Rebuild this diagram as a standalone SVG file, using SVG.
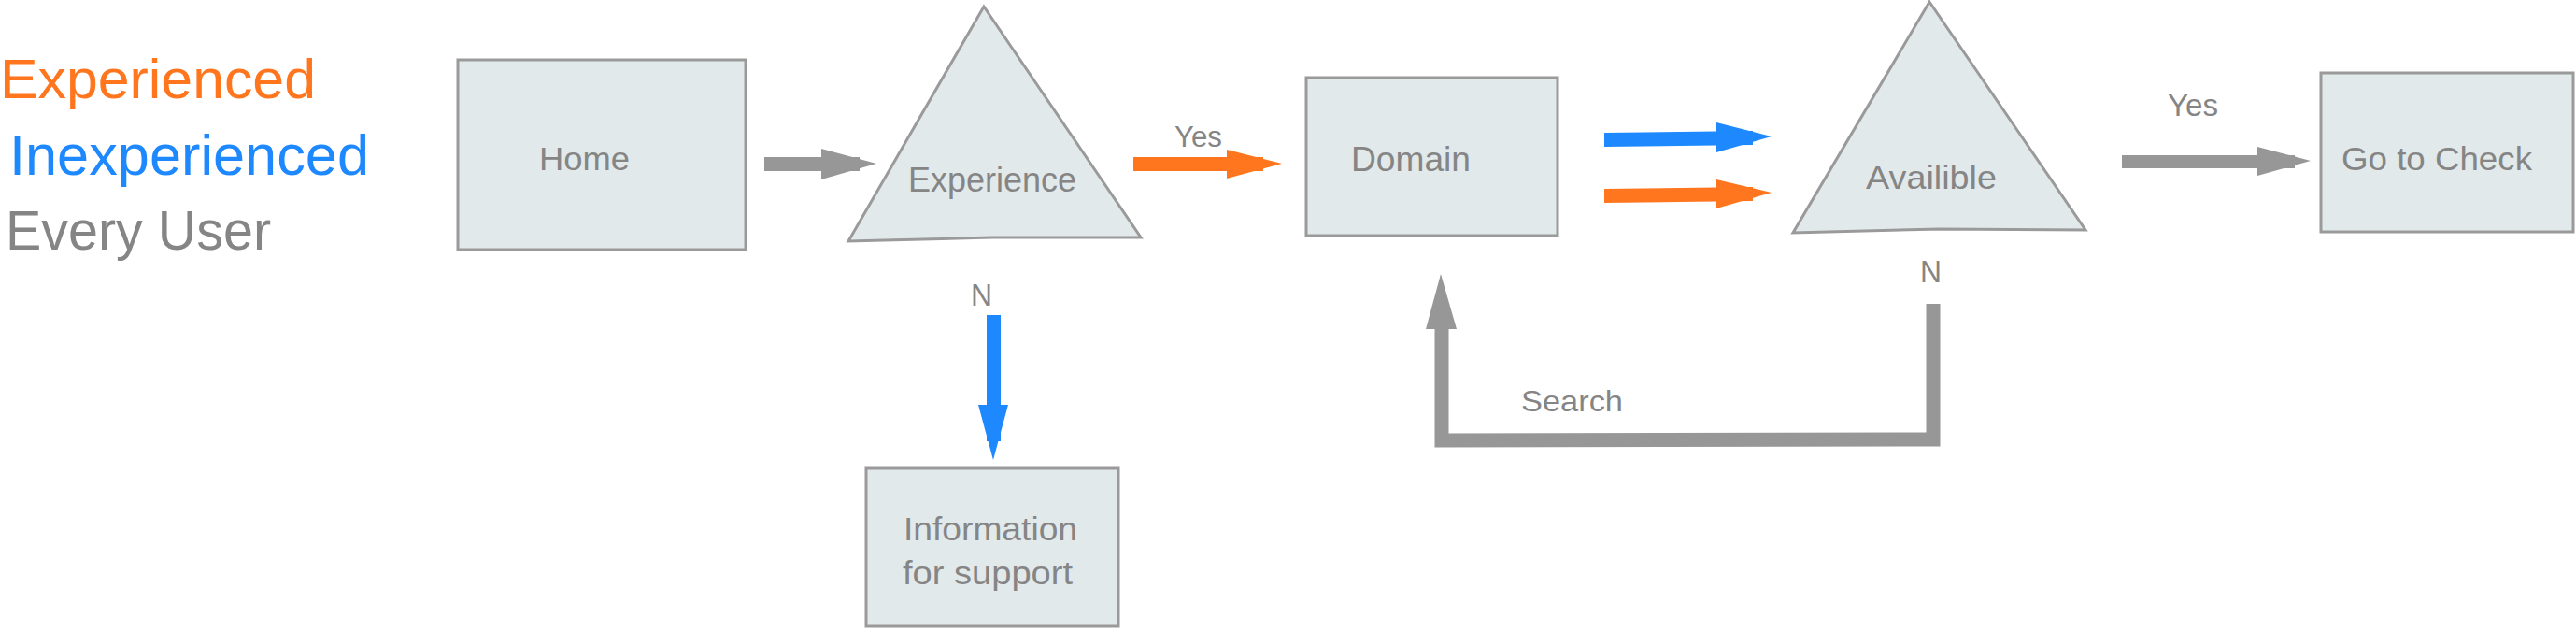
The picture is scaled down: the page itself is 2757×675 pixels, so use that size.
<svg xmlns="http://www.w3.org/2000/svg" width="2757" height="675" viewBox="0 0 2757 675">
<style>
.box{fill:#E2E9EB;stroke:#9A9A9A;stroke-width:3}
.lbl{font-family:"Liberation Sans",Arial,sans-serif;fill:#858585}
.leg{font-family:"Liberation Sans",Arial,sans-serif}
.gray{fill:#979797}
.orange{fill:#FF761F}
.blue{fill:#1E88FF}
</style>
<rect width="2757" height="675" fill="#FFFFFF"/>
<g id="legend">
<text class="leg" x="0" y="105" font-size="60" fill="#FF761F" textLength="338" lengthAdjust="spacingAndGlyphs">Experienced</text>
<text class="leg" x="10" y="187" font-size="62" fill="#1E88FF" textLength="385" lengthAdjust="spacingAndGlyphs">Inexperienced</text>
<text class="leg" x="6" y="267" font-size="60" fill="#858585" textLength="284" lengthAdjust="spacingAndGlyphs">Every User</text>
</g>
<g id="home">
<rect class="box" x="490" y="64" width="308" height="203"/>
<text class="lbl" x="577" y="182" font-size="35" textLength="97" lengthAdjust="spacingAndGlyphs">Home</text>
</g>
<g id="experience">
<polygon class="box" points="1053,7 1221,254 1062,254 908,258"/>
<text class="lbl" x="972" y="205" font-size="36" textLength="180" lengthAdjust="spacingAndGlyphs">Experience</text>
</g>
<g id="domain">
<rect class="box" x="1398" y="83" width="269" height="169"/>
<text class="lbl" x="1446" y="183" font-size="37" textLength="128" lengthAdjust="spacingAndGlyphs">Domain</text>
</g>
<g id="availible">
<polygon class="box" points="2065,2 2232,246 2076,245 1919,249"/>
<text class="lbl" x="1997" y="202" font-size="35" textLength="140" lengthAdjust="spacingAndGlyphs">Availible</text>
</g>
<g id="gotocheck">
<rect class="box" x="2484" y="78" width="270" height="170"/>
<text class="lbl" x="2506" y="182" font-size="35" textLength="204" lengthAdjust="spacingAndGlyphs">Go to Check</text>
</g>
<g id="information">
<rect class="box" x="927" y="501" width="270" height="169"/>
<text class="lbl" x="967" y="578" font-size="35" textLength="186" lengthAdjust="spacingAndGlyphs">Information</text>
<text class="lbl" x="966" y="625" font-size="35" textLength="182" lengthAdjust="spacingAndGlyphs">for support</text>
</g>
<g id="connectors">
<rect class="gray" x="818" y="168" width="102" height="15"/>
<polygon class="gray" points="879,159 938,175 879,192"/>
<rect class="orange" x="1213" y="168" width="139" height="15"/>
<polygon class="orange" points="1313,160 1372,175 1313,191"/>
<text class="lbl" x="1257" y="157" font-size="31" textLength="51" lengthAdjust="spacingAndGlyphs">Yes</text>
<rect class="blue" x="1056" y="337" width="15" height="135"/>
<polygon class="blue" points="1047,433 1079,433 1063,492"/>
<text class="lbl" x="1039" y="327" font-size="33" textLength="23" lengthAdjust="spacingAndGlyphs">N</text>
<polygon class="blue" points="1717,142 1876,140 1876,155 1717,157"/>
<polygon class="blue" points="1837,131 1896,146 1837,163"/>
<polygon class="orange" points="1717,202 1876,200 1876,215 1717,217"/>
<polygon class="orange" points="1837,192 1896,206 1837,223"/>
<rect class="gray" x="2271" y="166" width="185" height="14"/>
<polygon class="gray" points="2416,157 2473,172 2416,188"/>
<text class="lbl" x="2320" y="124" font-size="33" textLength="54" lengthAdjust="spacingAndGlyphs">Yes</text>
<polyline points="2069,325 2069,470 1543,471 1543,350" fill="none" stroke="#979797" stroke-width="15"/>
<polygon class="gray" points="1526,352 1542,293 1559,352"/>
<text class="lbl" x="2055" y="302" font-size="33" textLength="23" lengthAdjust="spacingAndGlyphs">N</text>
<text class="lbl" x="1628" y="440" font-size="32" textLength="109" lengthAdjust="spacingAndGlyphs">Search</text>
</g>
</svg>
